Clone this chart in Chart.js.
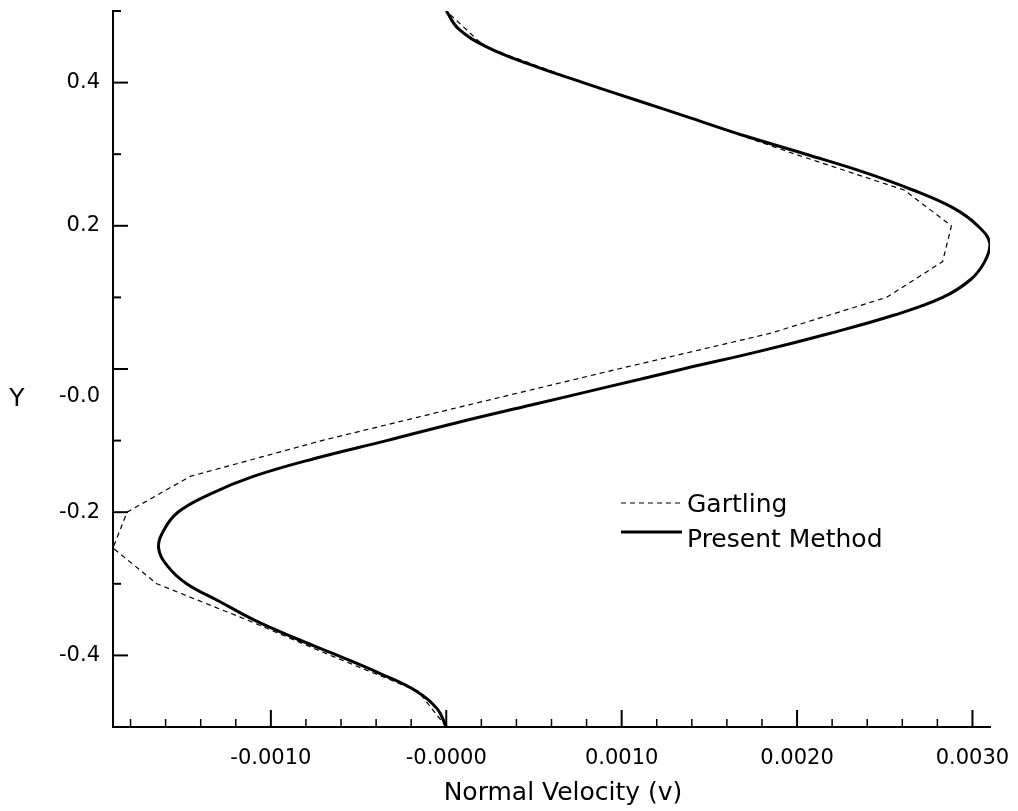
<!DOCTYPE html>
<html>
<head>
<meta charset="utf-8">
<script src="https://cdn.jsdelivr.net/npm/chart.js@4.4.1/dist/chart.umd.min.js"></script>
<style>
  html, body { margin: 0; padding: 0; background: #fff; }
  #wrap { width: 1018px; height: 811px; }
</style>
</head>
<body>
<div id="wrap"><canvas id="chart" width="1018" height="811"></canvas></div>
<script>
// Gartling (dashed), piecewise linear, every 0.05 in Y
var gartY = [-0.50, -0.45, -0.40, -0.35, -0.30, -0.25, -0.20, -0.15, -0.10, -0.05,
             0.00, 0.05, 0.10, 0.15, 0.20, 0.25, 0.30, 0.35, 0.40, 0.45, 0.50];
var gartV = [0.00000, -0.00016, -0.00066, -0.00114, -0.00165, -0.00190, -0.00182, -0.00146, -0.00071, 0.00013,
             0.00098, 0.00185, 0.00251, 0.00283, 0.00288, 0.00261, 0.00199, 0.00140, 0.00078, 0.00022, 0.00000];

// Present Method (solid)
var presY = [-0.500, -0.475, -0.450, -0.425, -0.400, -0.375, -0.350, -0.325, -0.300, -0.275,
             -0.250, -0.225, -0.200, -0.175, -0.150, -0.125, -0.100, -0.075, -0.050, -0.025,
             0.000, 0.025, 0.050, 0.075, 0.100, 0.125, 0.150, 0.175, 0.200, 0.225,
             0.250, 0.275, 0.300, 0.325, 0.350, 0.375, 0.400, 0.425, 0.450, 0.475, 0.500];
var presV = [0.00000, -0.00005, -0.00017, -0.00038, -0.00062, -0.00087, -0.00110, -0.00129, -0.00148, -0.00159,
             -0.00164, -0.00161, -0.00153, -0.00135, -0.00110, -0.00075, -0.00034, 0.00006, 0.00049, 0.00092,
             0.00135, 0.00179, 0.00219, 0.00255, 0.00283, 0.00299, 0.00307, 0.00310, 0.00303, 0.00289,
             0.00266, 0.00238, 0.00205, 0.00171, 0.00140, 0.00109, 0.00078, 0.00048, 0.00023, 0.00007, 0.00000];

// axes
var xMajorTicks = [-0.001, 0, 0.001, 0.002, 0.003];
var xTickLabels = ["-0.0010", "-0.0000", "0.0010", "0.0020", "0.0030"];
var xMinorStep = 0.0002;
var yMajorTicks = [-0.4, -0.2, 0, 0.2, 0.4];
var yTickLabels = ["-0.4", "-0.2", "-0.0", "0.2", "0.4"];
var yMinorTicks = [-0.3, -0.1, 0.1, 0.3, 0.5];

var xTitle = "Normal Velocity (v)";
var yTitle = "Y";
var seriesNames = ["Gartling", "Present Method"];

var FONT = "'DejaVu Sans', sans-serif";

function pairs(ys, vs) {
  var out = [];
  for (var i = 0; i < ys.length; i++) out.push({ x: vs[i], y: ys[i] });
  return out;
}

function near(a, b) { return Math.abs(a - b) < 1e-9; }

function majorIndex(list, v) {
  for (var i = 0; i < list.length; i++) if (near(list[i], v)) return i;
  return -1;
}

var xTickValues = [];
for (var k = -9; k <= 15; k++) xTickValues.push(Math.round(k * xMinorStep * 1e6) / 1e6);
var yTickValues = yMajorTicks.concat(yMinorTicks).sort(function (a, b) { return a - b; });

function noPadding(s) {
  s.paddingTop = 0;
  s.paddingBottom = 0;
  s.paddingLeft = 0;
  s.paddingRight = 0;
}

var tickPlugin = {
  id: "inwardTicks",
  afterDraw: function (chart) {
    var ctx = chart.ctx, xs = chart.scales.x, ys = chart.scales.y;
    var area = chart.chartArea;
    ctx.save();
    ctx.strokeStyle = "#000";
    xs.ticks.forEach(function (t) {
      var major = majorIndex(xMajorTicks, t.value) >= 0;
      var px = xs.getPixelForValue(t.value);
      ctx.lineWidth = major ? 2 : 1.5;
      ctx.beginPath();
      ctx.moveTo(px, area.bottom);
      ctx.lineTo(px, area.bottom - (major ? 17 : 8));
      ctx.stroke();
    });
    ys.ticks.forEach(function (t) {
      var major = majorIndex(yMajorTicks, t.value) >= 0;
      var py = ys.getPixelForValue(t.value);
      ctx.lineWidth = 2;
      ctx.beginPath();
      ctx.moveTo(area.left, py);
      ctx.lineTo(area.left + (major ? 15 : 8), py);
      ctx.stroke();
    });

    // the zero label sits a little below its tick, next to the axis title
    ctx.fillStyle = "#000";
    ctx.font = "21px " + FONT;
    ctx.textAlign = "right";
    ctx.textBaseline = "middle";
    ctx.fillText(yTickLabels[majorIndex(yMajorTicks, 0)], area.left - 13, ys.getPixelForValue(0) + 28);

    // axis titles
    ctx.font = "25px " + FONT;
    ctx.textAlign = "center";
    ctx.textBaseline = "alphabetic";
    ctx.fillText(xTitle, 563, 800);
    ctx.fillText(yTitle, 17, 406);

    // legend
    var ds = chart.data.datasets;
    var rows = [{ y: 503, base: 512 }, { y: 532, base: 547 }];
    ctx.textAlign = "left";
    for (var i = 0; i < ds.length; i++) {
      ctx.lineWidth = ds[i].borderWidth;
      ctx.setLineDash(ds[i].borderDash || []);
      ctx.beginPath();
      ctx.moveTo(621, rows[i].y);
      ctx.lineTo(682, rows[i].y);
      ctx.stroke();
      ctx.setLineDash([]);
      ctx.fillText(ds[i].label, 687, rows[i].base);
    }
    ctx.restore();
  }
};

new Chart(document.getElementById("chart"), {
  type: "line",
  data: {
    datasets: [
      {
        label: seriesNames[0],
        data: pairs(gartY, gartV),
        borderColor: "#000",
        borderWidth: 1.2,
        borderDash: [5, 4],
        tension: 0,
        pointRadius: 0,
        fill: false,
      },
      {
        label: seriesNames[1],
        data: pairs(presY, presV),
        borderColor: "#000",
        borderWidth: 3,
        tension: 0.4,
        pointRadius: 0,
        fill: false,
      },
    ],
  },
  options: {
    responsive: false,
    animation: false,
    layout: { padding: { left: 0, right: 28, top: 11, bottom: 0 } },
    plugins: {
      legend: { display: false },
      tooltip: { enabled: false },
    },
    scales: {
      x: {
        type: "linear",
        min: -0.0019,
        max: 0.0031,
        grid: { display: false, drawTicks: false },
        border: { display: true, color: "#000", width: 2 },
        afterBuildTicks: function (s) {
          s.ticks = xTickValues.map(function (v) { return { value: v }; });
        },
        afterFit: function (s) { s.height = 84; noPadding(s); },
        ticks: {
          autoSkip: false,
          maxRotation: 0,
          padding: 19,
          color: "#000",
          font: { family: FONT, size: 21 },
          callback: function (v) {
            var i = majorIndex(xMajorTicks, v);
            return i >= 0 ? xTickLabels[i] : "";
          },
        },
      },
      y: {
        type: "linear",
        min: -0.5,
        max: 0.5,
        grid: { display: false, drawTicks: false },
        border: { display: true, color: "#000", width: 2 },
        afterBuildTicks: function (s) {
          s.ticks = yTickValues.map(function (v) { return { value: v }; });
        },
        afterFit: function (s) { s.width = 113; noPadding(s); },
        ticks: {
          autoSkip: false,
          padding: 13,
          color: "#000",
          font: { family: FONT, size: 21 },
          callback: function (v) {
            // zero is drawn by the plugin, shifted down as in the original
            if (near(v, 0)) return "";
            var i = majorIndex(yMajorTicks, v);
            return i >= 0 ? yTickLabels[i] : "";
          },
        },
      },
    },
  },
  plugins: [tickPlugin],
});
</script>
</body>
</html>
